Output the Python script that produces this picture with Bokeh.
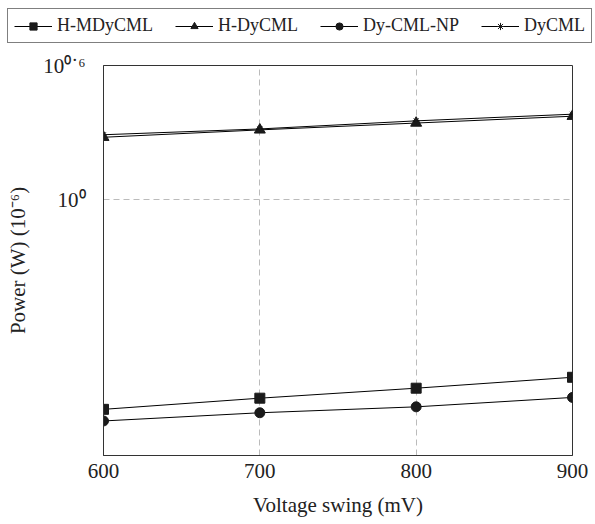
from bokeh.plotting import figure
from bokeh.models import (FixedTicker, Legend, LegendItem, Range1d)
from bokeh.layouts import column
from bokeh.embed import file_html
from bokeh.resources import INLINE

# ---- data ----
voltage = [600, 700, 800, 900]
h_mdycml = [0.115, 0.129, 0.143, 0.160]
h_dycml = [1.90, 2.05, 2.20, 2.36]
dy_cml_np = [0.102, 0.111, 0.118, 0.130]
dycml = [1.95, 2.07, 2.25, 2.41]
x_ticks = [600, 700, 800, 900]
y_tick_exps = [0, 0.6]
y_tick_labels = ["10⁰", "10⁰˙⁶"]
y_min_exp = -1.146

FONT = "Liberation Serif"
LEG_H = 50

series = [
    ("H-MDyCML", h_mdycml, "square", 10),
    ("H-DyCML", h_dycml, "triangle", 11),
    ("Dy-CML-NP", dy_cml_np, "circle", 10),
    ("DyCML", dycml, "asterisk", 7),
]

# ---------- main plot ----------
p = figure(width=595, height=524 - LEG_H, y_axis_type="log",
           x_range=Range1d(600, 900),
           y_range=Range1d(10 ** y_min_exp, 10 ** max(y_tick_exps)),
           output_backend="svg", toolbar_location=None,
           min_border_left=103, min_border_right=23,
           min_border_top=65 - LEG_H, min_border_bottom=69)
p.frame_align = False

p.background_fill_color = "white"
p.border_fill_color = "white"
p.outline_line_color = "#333333"
p.outline_line_width = 1

p.xaxis.ticker = FixedTicker(ticks=x_ticks)
p.yaxis.ticker = FixedTicker(ticks=[10 ** e for e in y_tick_exps], minor_ticks=[])
p.xaxis.minor_tick_line_color = None
p.yaxis.minor_tick_line_color = None
p.xaxis.major_tick_line_color = None
p.yaxis.major_tick_line_color = None
p.xaxis.axis_line_color = "#333333"
p.yaxis.axis_line_color = "#333333"
for ax in (p.xaxis, p.yaxis):
    ax.major_label_text_font = FONT
    ax.major_label_text_font_size = "21px"
    ax.major_label_text_color = "#222222"
    ax.axis_label_text_font = FONT
    ax.axis_label_text_font_size = "21px"
    ax.axis_label_text_font_style = "normal"
    ax.axis_label_text_color = "#222222"
p.xaxis.major_label_standoff = 2
p.xaxis.axis_label_standoff = 12
p.yaxis.major_label_standoff = 12
p.yaxis.axis_label_standoff = 10
p.yaxis.major_label_overrides = {10 ** e: t for e, t in zip(y_tick_exps, y_tick_labels)}

p.xaxis.axis_label = "Voltage swing (mV)"
p.yaxis.axis_label = "Power (W) (10⁻⁶)"

p.xgrid.grid_line_color = "#bbbbbb"
p.xgrid.grid_line_dash = "6 4"
p.ygrid.grid_line_color = "#bbbbbb"
p.ygrid.grid_line_dash = "6 4"

for name, ys, marker, size in series:
    p.line(voltage, ys, line_color="black", line_width=1)
    p.scatter(voltage, ys, marker=marker, size=size,
              fill_color="#1a1a1a", line_color="#1a1a1a", line_width=1)

# ---------- legend strip (same series, drawn outside its visible range) ----------
lg = figure(width=595, height=LEG_H, x_range=Range1d(0, 1), y_range=Range1d(0, 1),
            output_backend="svg", toolbar_location=None,
            min_border_left=0, min_border_right=0, min_border_top=0, min_border_bottom=0)
lg.frame_align = False
lg.axis.visible = False
lg.grid.visible = False
lg.outline_line_color = None

items = []
for name, ys, marker, size in series:
    l = lg.line(voltage, ys, line_color="black", line_width=1)
    s = lg.scatter(voltage, ys, marker=marker, size=size,
                   fill_color="#1a1a1a", line_color="#1a1a1a", line_width=1)
    items.append(LegendItem(label=name, renderers=[l, s]))

legend = Legend(items=items, orientation="horizontal", location=(7, 7),
                label_text_font=FONT, label_text_font_size="18px",
                label_text_color="#222222",
                border_line_color="black", border_line_width=1,
                glyph_width=38, glyph_height=18, label_standoff=5,
                spacing=22, padding=6, margin=0)
lg.add_layout(legend, "center")

layout = column(lg, p, spacing=0)
open("out.html", "w").write(file_html(layout, INLINE))
